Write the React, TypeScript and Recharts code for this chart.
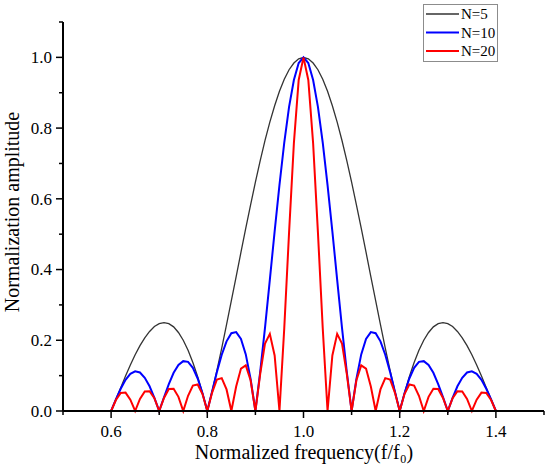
import { LineChart, Line, XAxis, YAxis, Legend } from 'recharts'

const freq = [
  0.6, 0.61, 0.62, 0.63, 0.64, 0.65, 0.66, 0.67, 0.68, 0.69,
  0.7, 0.71, 0.72, 0.73, 0.74, 0.75, 0.76, 0.77, 0.78, 0.79,
  0.8, 0.81, 0.82, 0.83, 0.84, 0.85, 0.86, 0.87, 0.88, 0.89,
  0.9, 0.91, 0.92, 0.93, 0.94, 0.95, 0.96, 0.97, 0.98, 0.99,
  1.0,
  1.01, 1.02, 1.03, 1.04, 1.05, 1.06, 1.07, 1.08, 1.09, 1.1,
  1.11, 1.12, 1.13, 1.14, 1.15, 1.16, 1.17, 1.18, 1.19, 1.2,
  1.21, 1.22, 1.23, 1.24, 1.25, 1.26, 1.27, 1.28, 1.29, 1.3,
  1.31, 1.32, 1.33, 1.34, 1.35, 1.36, 1.37, 1.38, 1.39, 1.4,
]

const ampN5 = [
  0, 0.033, 0.066, 0.099, 0.13, 0.159, 0.185, 0.207, 0.225, 0.239,
  0.247, 0.25, 0.247, 0.238, 0.222, 0.2, 0.172, 0.137, 0.097, 0.051,
  0, 0.056, 0.115, 0.178, 0.244, 0.312, 0.38, 0.449, 0.517, 0.583,
  0.647, 0.708, 0.765, 0.817, 0.863, 0.904, 0.938, 0.965, 0.984, 0.996,
  1,
  0.996, 0.984, 0.965, 0.938, 0.904, 0.863, 0.817, 0.765, 0.708, 0.647,
  0.583, 0.517, 0.449, 0.38, 0.312, 0.244, 0.178, 0.115, 0.056, 0,
  0.051, 0.097, 0.137, 0.172, 0.2, 0.222, 0.238, 0.247, 0.25, 0.247,
  0.239, 0.225, 0.207, 0.185, 0.159, 0.13, 0.099, 0.066, 0.033, 0,
]

const ampN10 = [
  0, 0.033, 0.063, 0.088, 0.105, 0.112, 0.109, 0.094, 0.07, 0.037,
  0, 0.039, 0.076, 0.108, 0.13, 0.141, 0.139, 0.122, 0.092, 0.05,
  0, 0.055, 0.11, 0.159, 0.197, 0.22, 0.223, 0.204, 0.16, 0.091,
  0, 0.111, 0.236, 0.371, 0.508, 0.639, 0.759, 0.86, 0.936, 0.984,
  1,
  0.984, 0.936, 0.86, 0.759, 0.639, 0.508, 0.371, 0.236, 0.111, 0,
  0.091, 0.16, 0.204, 0.223, 0.22, 0.197, 0.159, 0.11, 0.055, 0,
  0.05, 0.092, 0.122, 0.139, 0.141, 0.13, 0.108, 0.076, 0.039, 0,
  0.037, 0.07, 0.094, 0.109, 0.112, 0.105, 0.088, 0.063, 0.033, 0,
]

const ampN20 = [
  0, 0.031, 0.051, 0.052, 0.032, 0, 0.034, 0.055, 0.056, 0.036,
  0, 0.037, 0.062, 0.063, 0.04, 0, 0.043, 0.072, 0.075, 0.048,
  0, 0.052, 0.089, 0.093, 0.061, 0, 0.069, 0.12, 0.129, 0.087,
  0, 0.105, 0.191, 0.218, 0.157, 0, 0.234, 0.505, 0.757, 0.936,
  1,
  0.936, 0.757, 0.505, 0.234, 0, 0.157, 0.218, 0.191, 0.105, 0,
  0.087, 0.129, 0.12, 0.069, 0, 0.061, 0.093, 0.089, 0.052, 0,
  0.048, 0.075, 0.072, 0.043, 0, 0.04, 0.063, 0.062, 0.037, 0,
  0.036, 0.056, 0.055, 0.034, 0, 0.032, 0.052, 0.051, 0.031, 0,
]

const xTicks = [0.5, 0.6, 0.7, 0.8, 0.9, 1.0, 1.1, 1.2, 1.3, 1.4, 1.5]
const xLabels = ['0.6', '0.8', '1.0', '1.2', '1.4']
const yTicks = [0, 0.1, 0.2, 0.3, 0.4, 0.5, 0.6, 0.7, 0.8, 0.9, 1.0, 1.1]
const yLabels = ['0.0', '0.2', '0.4', '0.6', '0.8', '1.0']

const series = [
  { key: 'n5', name: 'N=5', color: '#333333', width: 1.3 },
  { key: 'n10', name: 'N=10', color: '#0000FF', width: 2 },
  { key: 'n20', name: 'N=20', color: '#FF0000', width: 2 },
]

const data = freq.map((f, i) => ({
  f,
  n5: ampN5[i],
  n10: ampN10[i],
  n20: ampN20[i],
}))

const serif = { fontFamily: '"Liberation Serif", "DejaVu Serif", serif' }

function XTick(props: any) {
  const { x, y, payload } = props
  const label = Number(payload.value).toFixed(1)
  const major = xLabels.includes(label)
  return (
    <g>
      <line x1={x} x2={x} y1={y} y2={y + (major ? 7 : 4)} stroke="#000" strokeWidth={1.5} />
      {major && (
        <text x={x} y={y + 26} textAnchor="middle" style={serif} fontSize={17} fill="#000">
          {label}
        </text>
      )}
    </g>
  )
}

function YTick(props: any) {
  const { x, y, payload } = props
  const label = Number(payload.value).toFixed(1)
  const major = yLabels.includes(label)
  return (
    <g>
      <line x1={x} x2={x - (major ? 7 : 4)} y1={y} y2={y} stroke="#000" strokeWidth={1.5} />
      {major && (
        <text x={x - 11} y={y} dy="0.35em" textAnchor="end" style={serif} fontSize={17} fill="#000">
          {label}
        </text>
      )}
    </g>
  )
}

function LegendBox() {
  return (
    <svg width={76} height={59}>
      <rect x={0.5} y={0.5} width={74} height={57} fill="#fff" stroke="#8C8C8C" strokeWidth={1} />
      {series.map((s, i) => (
        <g key={s.key}>
          <line x1={3} x2={36} y1={10 + i * 18.5} y2={10 + i * 18.5} stroke={s.color} strokeWidth={s.width} />
          <text x={38} y={10 + i * 18.5} dy="0.35em" style={serif} fontSize={15} fill="#000">
            {s.name}
          </text>
        </g>
      ))}
    </svg>
  )
}

export default function App() {
  return (
    <div style={{ position: 'absolute', left: 0, top: 0, width: 550, height: 473, background: '#fff' }}>
      <LineChart width={550} height={473} data={data} margin={{ top: 22, right: 6, left: 0, bottom: 0 }}>
        <XAxis
          dataKey="f"
          type="number"
          domain={[0.5, 1.5]}
          ticks={xTicks}
          interval={0}
          height={62}
          tickSize={0}
          tickMargin={0}
          tickLine={false}
          tick={<XTick />}
          axisLine={{ stroke: '#000', strokeWidth: 2 }}
        />
        <YAxis
          type="number"
          domain={[0, 1.1]}
          ticks={yTicks}
          interval={0}
          width={63}
          tickSize={0}
          tickMargin={0}
          tickLine={false}
          tick={<YTick />}
          axisLine={{ stroke: '#000', strokeWidth: 2 }}
        />
        <Legend
          layout="horizontal"
          align="center"
          verticalAlign="middle"
          content={() => <LegendBox />}
          wrapperStyle={{ position: 'absolute', left: 423, top: 4, width: 76, height: 59 }}
        />
        {series.map((s) => (
          <Line
            key={s.key}
            type="linear"
            dataKey={s.key}
            name={s.name}
            stroke={s.color}
            strokeWidth={s.width}
            dot={false}
            activeDot={false}
            isAnimationActive={false}
          />
        ))}
        <text x={304} y={459} textAnchor="middle" style={serif} fontSize={20} fill="#000">
          Normalized frequency(f/f₀)
        </text>
        <text
          x={19}
          y={212}
          transform="rotate(-90, 19, 212)"
          textAnchor="middle"
          style={serif}
          fontSize={20}
          fill="#000"
        >
          Normalization amplitude
        </text>
      </LineChart>
    </div>
  )
}
